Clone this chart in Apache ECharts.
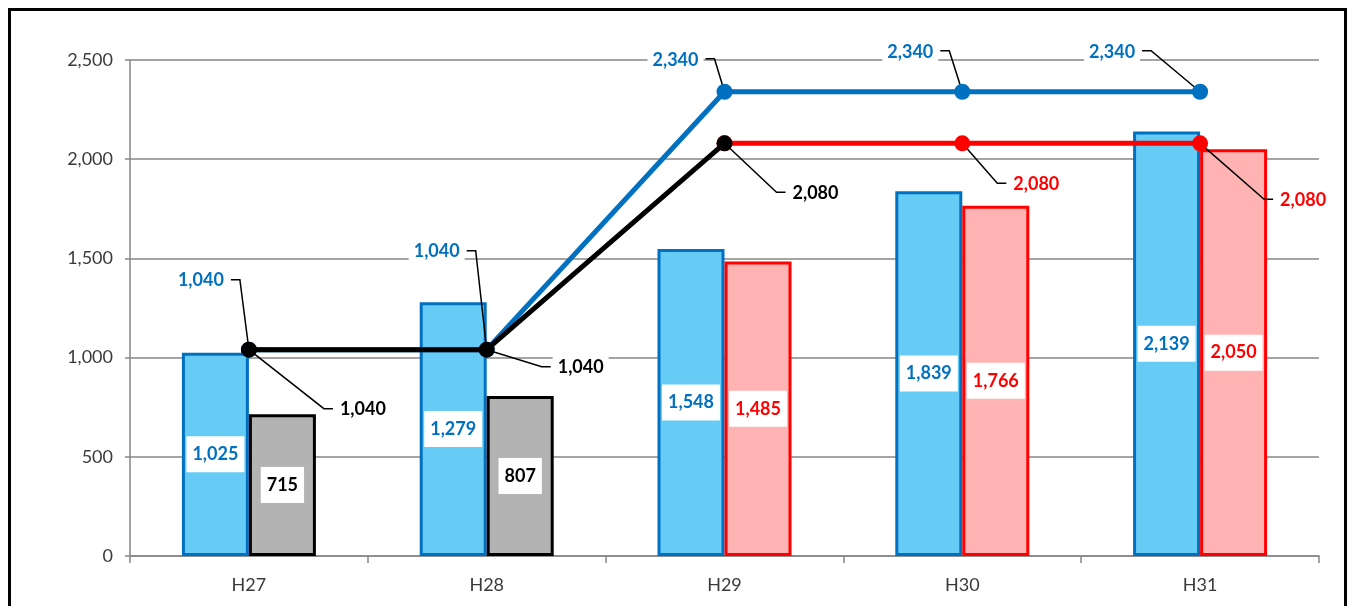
<!DOCTYPE html>
<html><head><meta charset="utf-8">
<script src="https://cdn.jsdelivr.net/npm/echarts@6/dist/echarts.min.js"></script>
<style>
html,body{margin:0;padding:0;background:#fff;}
body{width:1353px;height:606px;overflow:hidden;position:relative;}
#frame{position:absolute;left:8px;top:8px;width:1333px;height:700px;border:3px solid #000;}
#chart{position:absolute;left:0;top:0;width:1353px;height:606px;}
</style></head>
<body><div id="frame"></div><div id="chart"></div>
<script>
// ---- data ----
const categories = ['H27', 'H28', 'H29', 'H30', 'H31'];
const barBlueValues = [1025, 1279, 1548, 1839, 2139];
const barSecondValues = [715, 807, 1485, 1766, 2050];
const lineBlueValues = [1040, 1040, 2340, 2340, 2340];
const lineBlackValues = [1040, 1040, 2080, null, null];
const lineRedValues = [null, null, 2080, 2080, 2080];
const yTickValues = [0, 500, 1000, 1500, 2000, 2500];

// ---- styles ----
const BLUE = '#0070C0', RED = '#FF0000', BLACK = '#000000';
const FONT = 'Lato, "Liberation Sans", sans-serif';
const AXIS_GRAY = '#868686';
const secondBarStyles = [
  {fill: '#B3B3B3', border: BLACK, text: BLACK},
  {fill: '#B3B3B3', border: BLACK, text: BLACK},
  {fill: '#FFB3B3', border: RED, text: RED},
  {fill: '#FFB3B3', border: RED, text: RED},
  {fill: '#FFB3B3', border: RED, text: RED}
];
// callout label offsets (px) relative to the line point: [dx, dy]
const lineLabelOffsets = {
  blue: [[-48, -69], [-50, -98], [-49, -32], [-52, -40], [-88, -40]],
  black: [[114, 60], [94, 18], [91, 50], null, null],
  red: [null, null, null, [74, 41], [103, 57]]
};

const fmt = v => Number(v).toLocaleString('en-US');
const lineDefs = [
  {key: 'blue', values: lineBlueValues, color: BLUE},
  {key: 'black', values: lineBlackValues, color: BLACK},
  {key: 'red', values: lineRedValues, color: RED}
];
const calloutData = [], calloutMeta = [];
lineDefs.forEach(d => d.values.forEach((v, i) => {
  const off = lineLabelOffsets[d.key][i];
  if (v != null && off) { calloutData.push([i, v]); calloutMeta.push({color: d.color, off}); }
}));

const mctx = document.createElement('canvas').getContext('2d');
function textW(t) { mctx.font = 'bold 18px ' + FONT; return mctx.measureText(t).width; }

const chart = echarts.init(document.getElementById('chart'), null, {renderer: 'canvas'});
const option = {
  animation: false,
  backgroundColor: 'transparent',
  grid: {left: 130, right: 34, top: 60, bottom: 50, containLabel: false},
  xAxis: {
    type: 'category', data: categories,
    axisLine: {lineStyle: {color: AXIS_GRAY, width: 1.5}},
    axisTick: {show: true, length: 7, lineStyle: {color: AXIS_GRAY, width: 1.5}},
    axisLabel: {color: '#3a3a3a', fontSize: 18, fontFamily: FONT, margin: 20}
  },
  yAxis: {
    type: 'value', min: yTickValues[0], max: yTickValues[yTickValues.length - 1],
    interval: yTickValues[1] - yTickValues[0],
    axisLine: {show: true, lineStyle: {color: AXIS_GRAY, width: 1.5}},
    axisTick: {show: true, length: 5, lineStyle: {color: AXIS_GRAY, width: 1.5}},
    axisLabel: {color: '#3a3a3a', fontSize: 18, fontFamily: FONT, margin: 17, formatter: v => fmt(v)},
    splitLine: {show: true, lineStyle: {color: AXIS_GRAY, width: 1.5}}
  },
  series: [
    {
      type: 'bar', z: 2, barWidth: 67, barGap: '0%',
      data: barBlueValues,
      itemStyle: {color: '#66CCF5', borderColor: BLUE, borderWidth: 3},
      label: {show: true, position: 'inside', color: BLUE, fontWeight: 'bold', fontSize: 18,
        fontFamily: FONT, backgroundColor: '#fff', padding: [9, 6], formatter: p => fmt(p.value)}
    },
    {
      type: 'bar', z: 2, barWidth: 67, barGap: '0%',
      data: barSecondValues.map((v, i) => ({
        value: v,
        itemStyle: {color: secondBarStyles[i].fill, borderColor: secondBarStyles[i].border, borderWidth: 3},
        label: {color: secondBarStyles[i].text}
      })),
      label: {show: true, position: 'inside', fontWeight: 'bold', fontSize: 18,
        fontFamily: FONT, backgroundColor: '#fff', padding: [9, 6], formatter: p => fmt(p.value)}
    },
    {
      type: 'custom', z: 3, clip: false, silent: true,
      data: calloutData,
      renderItem: function (params, api) {
        const m = calloutMeta[params.dataIndex];
        const val = api.value(1);
        const p = api.coord([api.value(0), val]);
        const txt = fmt(val);
        const cx = p[0] + m.off[0], cy = p[1] + m.off[1];
        const hw = textW(txt) / 2 + 7;
        const left = m.off[0] < 0;
        const edgeX = left ? cx + hw : cx - hw;
        const elbowX = left ? edgeX + 9 : edgeX - 9;
        const ly = cy - 1;
        return {
          type: 'group',
          children: [
            {type: 'polyline', shape: {points: [[edgeX, ly], [elbowX, ly], [p[0], p[1]]]},
             style: {stroke: '#000', lineWidth: 1.5, fill: null}},
            {type: 'text', x: cx, y: cy,
             style: {text: txt, fill: m.color, font: 'bold 18px ' + FONT, align: 'center',
               verticalAlign: 'middle', backgroundColor: '#fff', padding: [3, 5]}}
          ]
        };
      }
    },
    {
      type: 'line', z: 4, data: lineBlueValues, symbol: 'circle', symbolSize: 16,
      lineStyle: {color: BLUE, width: 5}, itemStyle: {color: BLUE}, label: {show: false}
    },
    {
      type: 'line', z: 5, data: lineRedValues, symbol: 'circle', symbolSize: 16,
      lineStyle: {color: RED, width: 5}, itemStyle: {color: RED}, label: {show: false}
    },
    {
      type: 'line', z: 6, data: lineBlackValues, symbol: 'circle', symbolSize: 16,
      lineStyle: {color: BLACK, width: 5}, itemStyle: {color: BLACK}, label: {show: false}
    }
  ]
};
chart.setOption(option);
</script>
</body></html>
